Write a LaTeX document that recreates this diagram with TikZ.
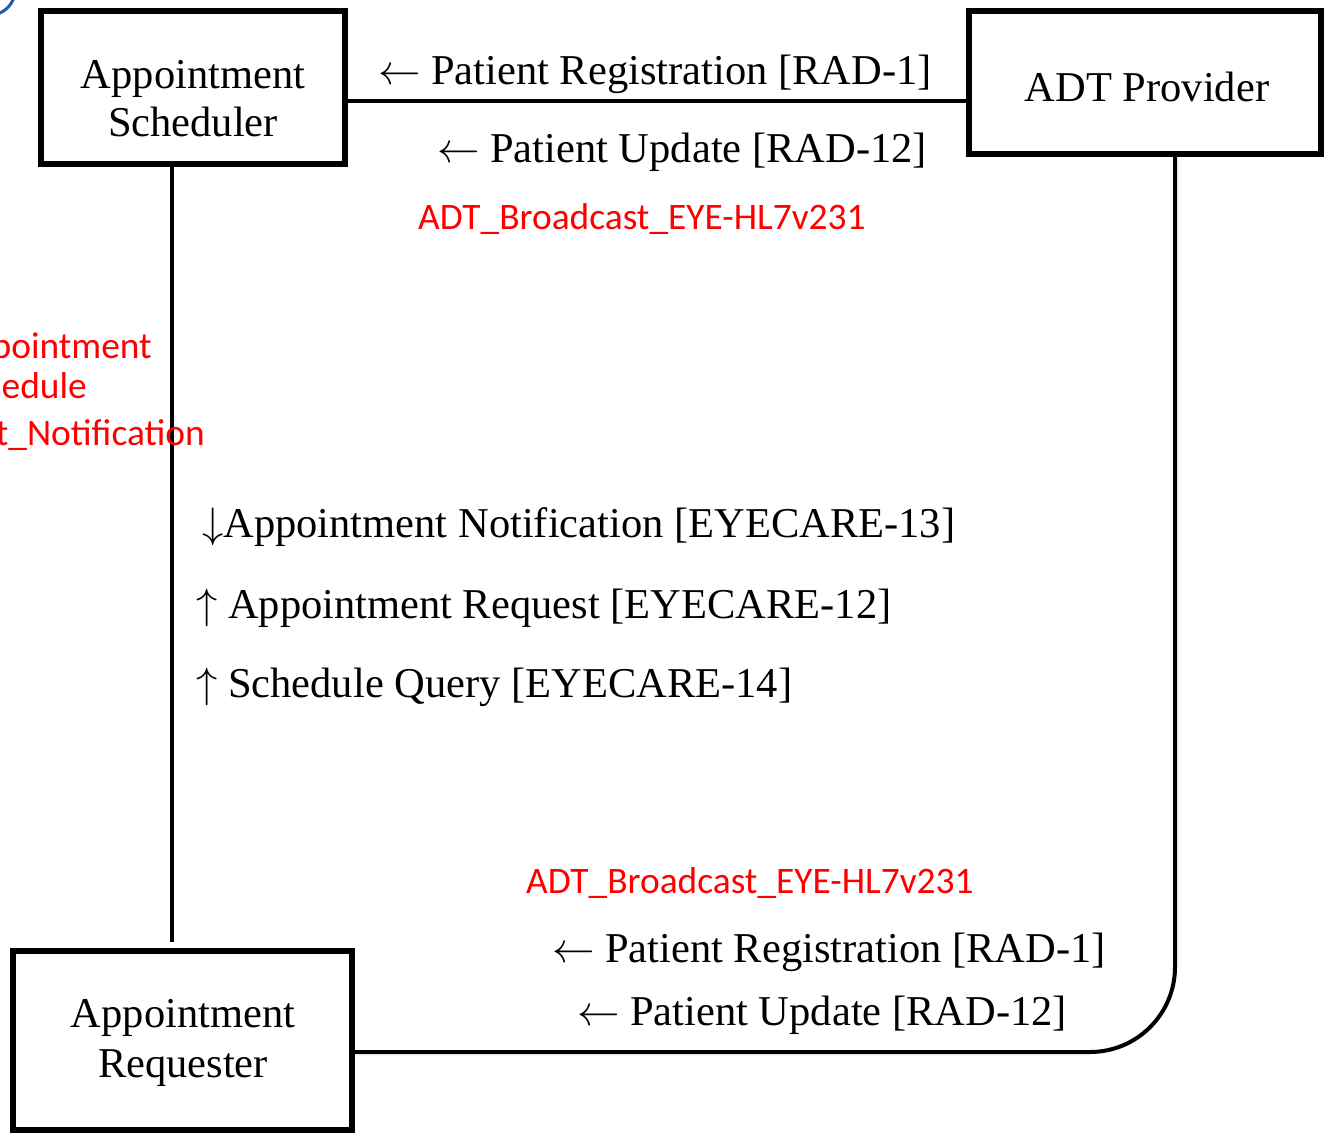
\documentclass[tikz,border=0pt]{standalone}
\usepackage{graphicx}
\usepackage{fontspec}
\setmainfont{Liberation Serif}
\newfontfamily\redfont{Carlito}
\newcommand\myLarr{\scalebox{4.25}{\fontsize{10}{12}\selectfont$\leftarrow$}}
\newcommand\myUarr{\scalebox{4.25}{\fontsize{10}{12}\selectfont$\uparrow$}}
\newcommand\myDarr{\scalebox{4.25}{\fontsize{10}{12}\selectfont$\downarrow$}}
\begin{document}
\begin{tikzpicture}[x=1pt,y=-1pt,
  boxstyle/.style={draw=black, line width=6pt, inner sep=0pt, minimum width=#1},
  conn/.style={draw=black, line width=4pt},
  boxtext/.style={font=\fontsize{42.5}{48}\selectfont, align=center, inner sep=0pt},
  msg/.style={font=\fontsize{42.5}{48}\selectfont, anchor=base west, inner sep=0pt},
  redmsg/.style={font=\redfont\fontsize{37.4}{44}\selectfont, text={rgb,255:red,255;green,0;blue,0}, inner sep=0pt}
]
\useasboundingbox (0,0) rectangle (1324,1134);
\clip (0,0) rectangle (1324,1134);
\fill[white] (0,0) rectangle (1324,1134);

% boxes
\node[boxstyle=304pt, minimum height=153pt] (sched) at (193,87.5) {};
\node[boxstyle=352pt, minimum height=143pt] (adt) at (1145,82.5) {};
\node[boxstyle=339pt, minimum height=179pt] (req) at (182.5,1040.5) {};

% box texts
\node[boxtext] (schedtxt) at (193,99) {Appointment\\Scheduler};
\node[boxtext, anchor=base] (adttxt) at (1147,102) {ADT Provider};
\node[boxtext, font=\fontsize{42.5}{50}\selectfont] (reqtxt) at (183,1043) {Appointment\\Requester};

% connectors
\coordinate (hy) at (0,101);
\coordinate (reqtop) at (172,942);
\coordinate (adtx) at (1175,0);
\coordinate (by) at (0,1052);
\draw[conn] (sched.east |- hy) -- (adt.west |- hy);
\draw[conn] (sched.south -| reqtop) -- (reqtop);
\draw[conn, rounded corners=85pt] (adt.south -| adtx) |- (req.east |- by);

% messages top
\node[msg] (m1) at (378,85) {\myLarr{} Patient Registration [RAD-1]};
\node[msg] (m2) at (437,163) {\myLarr{} Patient Update [RAD-12]};
\node[redmsg, anchor=base west] (r1) at (418,229) {ADT\_Broadcast\_EYE-HL7v231};

% left red annotation (cut at the left edge)
\node[redmsg, anchor=base east] (l1) at (152,358) {pointment};
\node[redmsg, anchor=base east] (l2) at (87,398) {hedule};
\node[redmsg, anchor=base east] (l3) at (205,445) {t\_Notification};

% middle messages
\node[msg] (m3) at (202,537) {\myDarr{}Appointment Notification [EYECARE-13]};
\node[msg] (m4) at (196,618) {\myUarr{} Appointment Request [EYECARE-12]};
\node[msg] (m5) at (196,697) {\myUarr{} Schedule Query [EYECARE-14]};

% bottom messages
\node[redmsg, anchor=base west] (r2) at (526,893) {ADT\_Broadcast\_EYE-HL7v231};
\node[msg] (m6) at (552,962) {\myLarr{} Patient Registration [RAD-1]};
\node[msg] (m7) at (577,1025) {\myLarr{} Patient Update [RAD-12]};

% partial blue circle at the top-left corner
\draw[draw={rgb,255:red,40;green,90;blue,170}, line width=3pt] (-10,-10) circle (25);
\end{tikzpicture}
\end{document}
